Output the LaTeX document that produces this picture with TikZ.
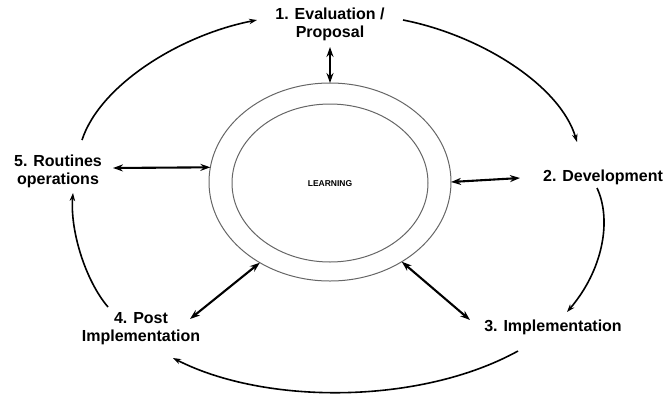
\documentclass[tikz,border=0pt]{standalone}
\usepackage{fontspec}
\setmainfont{Liberation Sans}
\usetikzlibrary{arrows.meta,shapes.geometric}
\begin{document}
\begin{tikzpicture}[x=1pt,y=-1pt,
  stage/.style={font=\bfseries\fontsize{16}{18}\selectfont, align=center, inner sep=1pt},
  ringline/.style={ellipse, draw=black!60, line width=1pt, inner sep=0pt, outer sep=0pt},
  link/.style={line width=2.1pt, {Stealth[length=10pt,width=7pt]}-{Stealth[length=10pt,width=7pt]}},
  cycleflow/.style={line width=1.6pt, -{Stealth[length=8pt,width=5.5pt]}}]
\useasboundingbox (0,0) rectangle (670,397);

% central learning rings
\node[ringline, minimum width=242pt, minimum height=198pt] (ring) at (330,182) {};
\node[ringline, minimum width=196pt, minimum height=158pt] (core) at (330,183) {};
\node[font=\bfseries\fontsize{8.5}{10}\selectfont, inner sep=0pt] (learn) at (330,184) {LEARNING};

% stages of the cycle
\node[stage] (s1) at (330,24) {1. Evaluation /\\Proposal};
\node[stage] (s2) at (603,177) {2. Development};
\node[stage] (s3) at (553,327) {3. Implementation};
\node[stage] (s4) at (141,329) {4. Post\\Implementation};
\node[stage] (s5) at (58,171) {5. Routines\\operations};

% ends of the links next to the stage labels
\coordinate (t1) at (330,47);
\coordinate (t2) at (520,178);
\coordinate (t3) at (470,320);
\coordinate (t4) at (190,319);
\coordinate (t5) at (113,168);

% links between the rings and each stage
\draw[link] (ring.north) -- (t1);
\draw[link] (ring.0) -- (t2);
\draw[link] (ring.312) -- (t3);
\draw[link] (ring.229) -- (t4);
\draw[link] (ring.173) -- (t5);

% ends of the outer cycle arrows
\coordinate (a5) at (82,140);
\coordinate (b1) at (257,20);
\coordinate (a1) at (403,20);
\coordinate (b2) at (577,142);
\coordinate (a2) at (597,188);
\coordinate (b3) at (567,312);
\coordinate (a3) at (518,351);
\coordinate (b4) at (173,358);
\coordinate (a4) at (108,307);
\coordinate (b5) at (73,193);

% outer cycle
\draw[cycleflow] (a5) .. controls (100,85) and (180,35) .. (b1);
\draw[cycleflow] (a1) .. controls (480,35) and (560,85) .. (b2);
\draw[cycleflow] (a2) .. controls (612,220) and (603,270) .. (b3);
\draw[cycleflow] (a3) .. controls (420,405) and (265,405) .. (b4);
\draw[cycleflow] (a4) .. controls (85,280) and (70,230) .. (b5);
\end{tikzpicture}
\end{document}
